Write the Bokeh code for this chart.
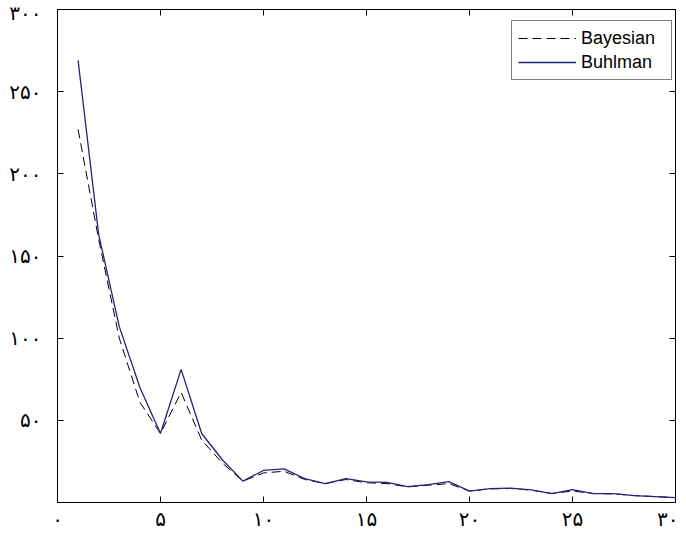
from bokeh.plotting import figure
from bokeh.models import LinearAxis, FixedTicker, Range1d, Legend, LegendItem
from bokeh.embed import file_html
from bokeh.resources import INLINE

x = list(range(1, 31))
bayesian = [227, 160, 100, 61, 42, 67, 38, 24, 13, 18, 19, 14, 11.5, 14, 12,
            11.5, 9.5, 10.5, 11.5, 7, 8.3, 8.5, 7.5, 5.5, 7, 5.5, 5.2, 4.2, 3.6, 3]
buhlman = [269, 163, 107, 70, 42, 81, 42, 26, 13, 19.5, 20.5, 14.5, 11.5, 14.5, 12.5,
           12.3, 9.7, 10.9, 12.7, 6.9, 8.5, 8.7, 7.7, 5.4, 7.8, 5.4, 5.4, 4.2, 3.6, 3]

x_ticks = [0, 5, 10, 15, 20, 25, 30]
x_tick_labels = ["۰", "۵", "۱۰", "۱۵", "۲۰", "۲۵", "۳۰"]
y_ticks = [0, 50, 100, 150, 200, 250, 300]
y_tick_labels = ["", "۵۰", "۱۰۰", "۱۵۰", "۲۰۰", "۲۵۰", "۳۰۰"]

p = figure(width=678, height=535, output_backend="svg", toolbar_location=None,
           x_range=Range1d(0, 30), y_range=Range1d(0, 300),
           min_border_left=57, min_border_right=3, min_border_top=9, min_border_bottom=33)
p.background_fill_color = "white"
p.border_fill_color = "white"
p.outline_line_color = "black"
p.outline_line_width = 1
p.xgrid.visible = False
p.ygrid.visible = False

def style(ax, ticks, labels, show, standoff=0):
    ax.ticker = FixedTicker(ticks=ticks)
    ax.major_tick_in = 6
    ax.major_tick_out = 0
    ax.minor_tick_in = 0
    ax.minor_tick_out = 0
    ax.axis_line_color = "black"
    ax.major_tick_line_color = "black"
    ax.major_label_text_font = "DejaVu Sans"
    ax.major_label_text_color = "black"
    if show:
        ax.major_label_overrides = {t: l for t, l in zip(ticks, labels)}
        ax.major_label_text_font_size = "20px"
        ax.major_label_standoff = standoff
    else:
        ax.major_label_overrides = {t: "" for t in ticks}
        ax.major_label_text_font_size = "1px"
        ax.major_label_standoff = 0

style(p.xaxis[0], x_ticks, x_tick_labels, True, 4)
style(p.yaxis[0], y_ticks, y_tick_labels, True, 16)

top_ax = LinearAxis()
style(top_ax, x_ticks, x_tick_labels, False)
p.add_layout(top_ax, "above")
right_ax = LinearAxis()
style(right_ax, y_ticks, y_tick_labels, False)
p.add_layout(right_ax, "right")

r1 = p.line(x, bayesian, line_color="black", line_width=1, line_dash="9 5")
r2 = p.line(x, buhlman, line_color="#24247a", line_width=1.3)

legend = Legend(items=[LegendItem(label="Bayesian", renderers=[r1]),
                       LegendItem(label="Buhlman", renderers=[r2])],
                location=(454, 422))
legend.label_text_font = "Liberation Sans"
legend.label_text_font_size = "18px"
legend.label_text_color = "black"
legend.border_line_color = "black"
legend.border_line_width = 1
legend.background_fill_color = "white"
legend.background_fill_alpha = 1
legend.glyph_width = 58
legend.glyph_height = 22
legend.label_height = 22
legend.label_width = 84
legend.label_standoff = 5
legend.spacing = 2
legend.padding = 6
legend.margin = 0
p.add_layout(legend)

open("out.html", "w").write(file_html(p, INLINE))
